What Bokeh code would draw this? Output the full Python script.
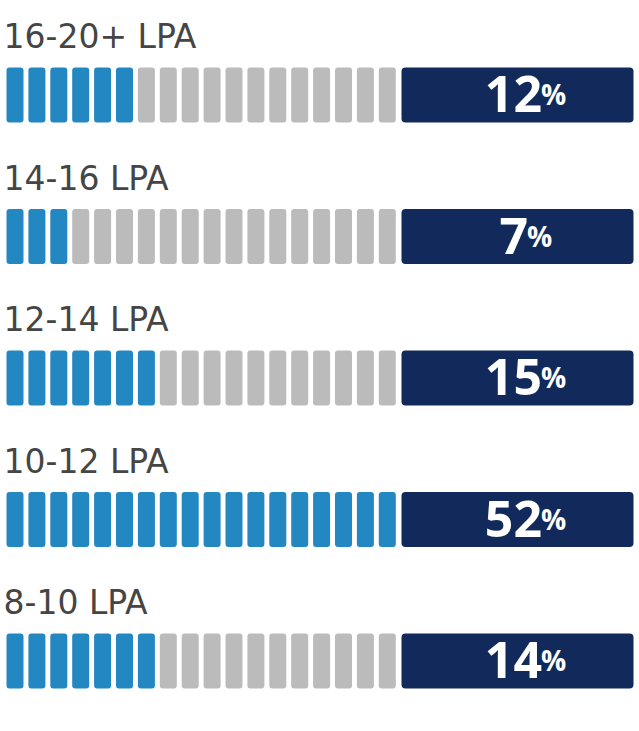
from bokeh.plotting import figure
from bokeh.models import Range1d, ColumnDataSource
from bokeh.embed import file_html
from bokeh.resources import INLINE
from bokeh.core.properties import value

# ---- data ----
categories = ["16-20+ LPA", "14-16 LPA", "12-14 LPA", "10-12 LPA", "8-10 LPA"]
percentages = [12, 7, 15, 52, 14]
filled_segments = [6, 3, 7, 18, 7]
total_segments = 18

# ---- style / layout ----
BLUE = "#2387c2"
GRAY = "#bbbbbb"
NAVY = "#112a5b"
LABEL = "#454545"
W, H = 639, 731
ROW_TOP0 = 67
ROW_PITCH = 141.5
BAR_H = 55
SEG_X0 = 6
SEG_PITCH = 21.9
SEG_W = 17
BOX_L, BOX_R = 401, 633
PCT_CX = 524

p = figure(width=W, height=H, output_backend="svg", toolbar_location=None,
           x_range=Range1d(0, W), y_range=Range1d(H, 0), min_border=0)
p.axis.visible = False
p.grid.visible = False
p.outline_line_color = None
p.background_fill_color = "white"
p.border_fill_color = "white"

seg = dict(left=[], right=[], top=[], bottom=[], color=[])
box = dict(left=[], right=[], top=[], bottom=[])
lab = dict(x=[], y=[], text=[])
dig = dict(x=[], y=[], text=[])
pc = dict(x=[], y=[], text=[])

for r, (cat, pct, nf) in enumerate(zip(categories, percentages, filled_segments)):
    top = ROW_TOP0 + r * ROW_PITCH
    bot = top + BAR_H
    for i in range(total_segments):
        l = SEG_X0 + i * SEG_PITCH
        seg["left"].append(l)
        seg["right"].append(l + SEG_W)
        seg["top"].append(top)
        seg["bottom"].append(bot)
        seg["color"].append(BLUE if i < nf else GRAY)
    box["left"].append(BOX_L); box["right"].append(BOX_R)
    box["top"].append(top); box["bottom"].append(bot)
    lab["x"].append(3); lab["y"].append(top - 31); lab["text"].append(cat)
    s = str(pct)
    split = PCT_CX + len(s) * 14 - 10.5
    base = top + BAR_H / 2 + 18
    dig["x"].append(split); dig["y"].append(base - 19); dig["text"].append(s)
    pc["x"].append(split - 1); pc["y"].append(base - 19); pc["text"].append("%")

p.quad(left="left", right="right", top="top", bottom="bottom", fill_color="color",
       line_color=None, border_radius=3, source=ColumnDataSource(seg))
p.quad(left="left", right="right", top="top", bottom="bottom", fill_color=NAVY,
       line_color=None, border_radius=4, source=ColumnDataSource(box))
p.text(x="x", y="y", text="text", source=ColumnDataSource(lab),
       text_font=value("DejaVu Sans"), text_font_size="33px", text_color=LABEL,
       text_baseline="alphabetic", text_align="left")
p.text(x="x", y="y", text="text", source=ColumnDataSource(dig),
       text_font=value("Open Sans"), text_font_style="bold", text_font_size="50px",
       text_color="white", text_baseline="alphabetic", text_align="right")
p.text(x="x", y="y", text="text", source=ColumnDataSource(pc),
       text_font=value("Open Sans"), text_font_style="bold", text_font_size="28px",
       text_color="white", text_baseline="alphabetic", text_align="left")

open("out.html", "w").write(file_html(p, INLINE))
